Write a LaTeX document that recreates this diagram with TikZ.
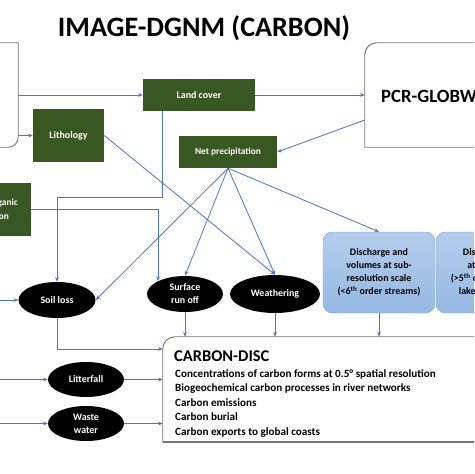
\documentclass[tikz,border=0pt]{standalone}
\usepackage{fontspec}
\setmainfont{Carlito}
\usetikzlibrary{arrows.meta,shapes.geometric}
\definecolor{verdeoscuro}{RGB}{56,87,35}
\definecolor{azulflecha}{RGB}{79,117,194}
\definecolor{azulclaro}{RGB}{180,205,237}
\definecolor{azulmedio}{RGB}{150,184,226}
\definecolor{bordeazul}{RGB}{135,170,215}
\definecolor{grisborde}{RGB}{118,118,118}
\begin{document}
\begin{tikzpicture}[x=0.03cm, y=-0.03cm,
	flecha/.style={azulflecha, line width=0.7pt, -{Stealth[length=4pt,width=3.2pt]}},
	borde/.style={grisborde, line width=0.8pt},
	verde/.style={fill=verdeoscuro, text=white, font=\bfseries\fontsize{8.5}{10}\selectfont, align=center, inner sep=0pt},
	elipse/.style={ellipse, fill=black, text=white, font=\bfseries\fontsize{8.5}{11}\selectfont, align=center, inner sep=0pt, minimum width=2.28cm, minimum height=1.08cm},
	caudal/.style={rounded corners=8pt, draw=bordeazul, top color=azulclaro, bottom color=azulmedio, font=\bfseries\fontsize{8.5}{11}\selectfont, align=center, inner sep=0pt, minimum width=3.36cm, minimum height=2.43cm},
	modelo/.style={draw=none, inner sep=0pt}]
	\useasboundingbox (0,0) rectangle (474,474);
	\clip (0,0) rectangle (474,474);

	% Titulo
		\node[font=\bfseries\fontsize{24}{28}\selectfont] (titulo) at (204,28) {IMAGE-DGNM (CARBON)};

	% Modelos
		% IMAGE (cortado a la izquierda)
			\node[modelo, minimum width=2.34cm, minimum height=3.12cm] (imagen) at (-21,95) {};
			\draw[borde] (imagen.north west) -- (imagen.north east) -- ([yshift=0.3cm]imagen.south east) arc[start angle=0, end angle=-90, radius=0.3cm] -- (imagen.south west);
		% PCR-GLOBWB
			\node[modelo, minimum width=4.65cm, minimum height=3.12cm] (pcr) at (442.5,95) {};
			\draw[borde] (pcr.south east) -- (pcr.south west) -- ([yshift=-0.36cm]pcr.north west) arc[start angle=180, end angle=90, radius=0.36cm] -- (pcr.north east);
			\node[anchor=west, inner sep=0pt, font=\bfseries\fontsize{16}{18}\selectfont] (pcrtexto) at (381,96) {PCR-GLOBWB};
		% CARBON-DISC
			\node[modelo, minimum width=10.71cm, minimum height=3.15cm] (carbono) at (341.5,389.5) {};
			\draw[borde] (carbono.south east) -- (carbono.south west) -- ([yshift=-0.36cm]carbono.north west) arc[start angle=180, end angle=90, radius=0.36cm] -- (carbono.north east);
			\draw[grisborde, line width=1.5pt] (carbono.south west) -- (carbono.south east);
			\node[anchor=base west, inner sep=0pt, font=\bfseries\fontsize{14}{16}\selectfont] (carbonotitulo) at (174,361) {CARBON-DISC};
			\node[anchor=north west, inner sep=0pt, align=left, font=\bfseries\fontsize{9.5}{12.4}\selectfont] (carbonolista) at (175,369) {Concentrations of carbon forms at 0.5\textdegree{} spatial resolution\\Biogeochemical carbon processes in river networks\\Carbon emissions\\Carbon burial\\Carbon exports to global coasts};

	% Datos de entrada
		\node[verde, minimum width=3.36cm, minimum height=0.96cm] (cobertura) at (199,95) {Land cover};
		\node[verde, minimum width=2.13cm, minimum height=1.59cm] (litologia) at (68.5,135.5) {Lithology};
		\node[verde, minimum width=2.94cm, minimum height=0.96cm, font=\bfseries\fontsize{8}{10}\selectfont] (precipitacion) at (228,152) {Net precipitation};
		\node[verde, minimum width=2.13cm, minimum height=1.59cm, font=\bfseries\fontsize{8}{12}\selectfont] (organico) at (-4.5,209.5) {Soil organic\\carbon};

	% Procesos
		\node[elipse, minimum width=2.31cm] (perdida) at (57,300) {Soil loss};
		\node[elipse] (escorrentia) at (185,294) {Surface\\run off};
		\node[elipse, minimum width=2.7cm, minimum height=1.14cm] (meteorizacion) at (275,294) {Weathering};
		\node[elipse, minimum height=1.05cm] (hojarasca) at (86,379.5) {Litterfall};
		\node[elipse, minimum height=1.05cm] (residuales) at (86,423.5) {Waste\\water};

	% Caudales
		\node[caudal] (caudalA) at (379,272.5) {Discharge and\\volumes at sub-\\resolution scale\\(<6\textsuperscript{th} order streams)};
		\node[caudal] (caudalB) at (492,272.5) {Discharge and\\at 0.5\textdegree{} scale\\(>5\textsuperscript{th} order streams,\\lakes and dams)};

	% Extremos libres
		\coordinate (entradaA) at (-5,300);
		\coordinate (entradaB) at (-5,379.5);
		\coordinate (entradaC) at (-5,423.5);

	% Flechas
		\draw[flecha] (imagen.east) -- (cobertura.west);
		\draw[flecha] (imagen.east |- litologia.west) -- (litologia.west);
		\draw[flecha] (cobertura.east) -- (pcr.west);
		\draw[flecha] ([yshift=-0.75cm]pcr.west) -- (precipitacion.east);
		\draw[flecha] ([xshift=-1.11cm]cobertura.south) -- ++(0,86) -| (perdida.north);
		\draw[flecha] (organico.east) -| (escorrentia.north west);
		\draw[flecha] (litologia.east) -- (meteorizacion.north);
		\foreach \destino in {perdida.east, escorrentia.north, meteorizacion.north, caudalA.north}
			\draw[flecha] (precipitacion.south) -- (\destino);
		\draw[flecha] (perdida.south) |- ([yshift=1.215cm]carbono.west);
		\foreach \origen in {escorrentia, meteorizacion, caudalA}
			\draw[flecha] (\origen.south) -- (\origen.south |- carbono.north);
		\draw[flecha] (entradaA) -- (perdida.west);
		\draw[flecha] (entradaB) -- (hojarasca.west);
		\draw[flecha] (entradaC) -- (residuales.west);
		\draw[flecha] (hojarasca.east) -- (hojarasca.east -| carbono.west);
		\draw[flecha] (residuales.east) -- (residuales.east -| carbono.west);
\end{tikzpicture}
\end{document}
